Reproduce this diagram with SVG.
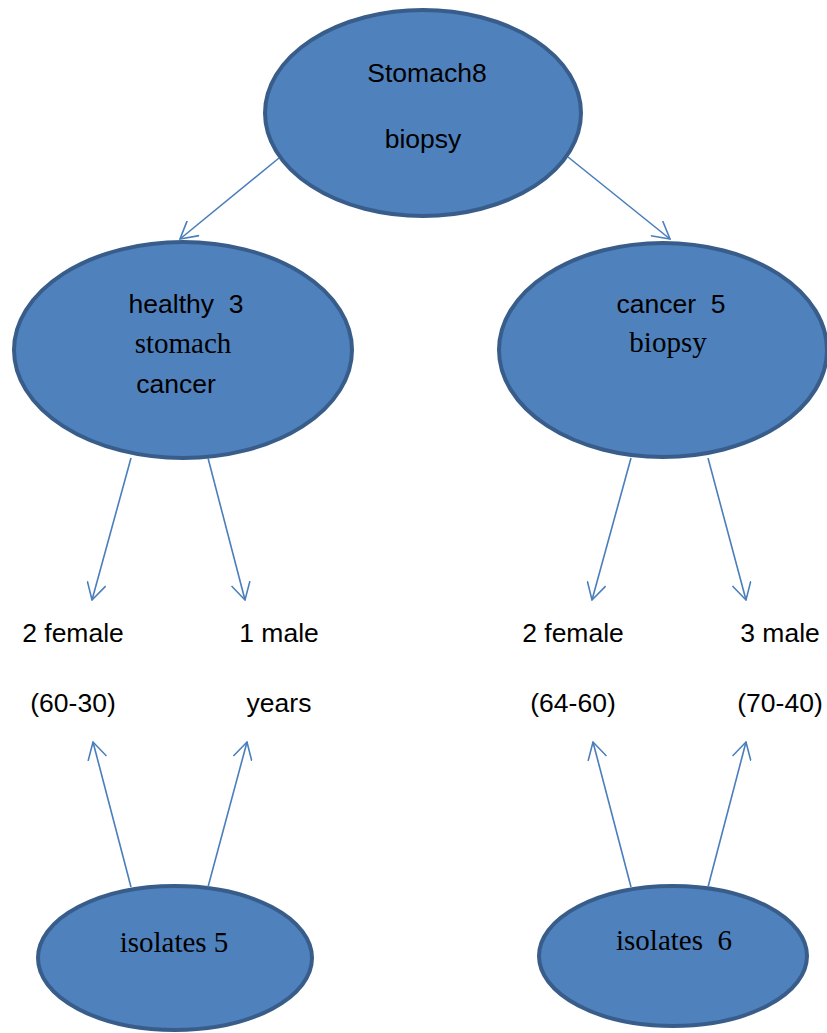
<svg xmlns="http://www.w3.org/2000/svg" width="827" height="1033" viewBox="0 0 827 1033">
<defs>
<style>
.node{fill:#4f81bd;stroke:#385d8a;stroke-width:4}
.sans{font-family:"Liberation Sans",Arial,sans-serif;font-size:26.5px;fill:#000;text-anchor:middle}
.serif{font-family:"Liberation Serif","Times New Roman",serif;font-size:29px;fill:#000;text-anchor:middle}
.conn line{stroke:#4a7ebb;stroke-width:1.6;fill:none}
</style>
<marker id="arr" viewBox="0 0 20 20" refX="19" refY="10" markerWidth="20" markerHeight="20" markerUnits="userSpaceOnUse" orient="auto">
<path d="M2,0.5 L19,10 L2,19.5" fill="none" stroke="#4a7ebb" stroke-width="1.6"/>
</marker>
</defs>
<rect width="827" height="1033" fill="#fff"/>
<g id="stomach">
<ellipse class="node" cx="423" cy="113" rx="158" ry="103"/>
<text class="sans" x="427" y="82">Stomach8</text>
<text class="sans" x="423" y="148">biopsy</text>
</g>
<g id="healthy">
<ellipse class="node" cx="183" cy="350" rx="169" ry="108"/>
<text class="sans" x="186" y="313" xml:space="preserve">healthy  3</text>
<text class="serif" x="183" y="353">stomach</text>
<text class="sans" x="176" y="393">cancer</text>
</g>
<g id="cancer">
<ellipse class="node" cx="663" cy="350" rx="164" ry="107"/>
<text class="sans" x="671" y="313" xml:space="preserve">cancer  5</text>
<text class="serif" x="668" y="352">biopsy</text>
</g>
<g id="female-healthy">
<text class="sans" x="73" y="642">2 female</text>
<text class="sans" x="73" y="712">(60-30)</text>
</g>
<g id="male-healthy">
<text class="sans" x="279" y="642">1 male</text>
<text class="sans" x="279" y="712">years</text>
</g>
<g id="female-cancer">
<text class="sans" x="573" y="642">2 female</text>
<text class="sans" x="573" y="712">(64-60)</text>
</g>
<g id="male-cancer">
<text class="sans" x="780" y="642">3 male</text>
<text class="sans" x="780" y="712">(70-40)</text>
</g>
<g id="isolates5">
<ellipse class="node" cx="175" cy="958" rx="137" ry="72"/>
<text class="serif" x="174" y="952">isolates 5</text>
</g>
<g id="isolates6">
<ellipse class="node" cx="673" cy="956" rx="134" ry="70"/>
<text class="serif" x="674" y="950" xml:space="preserve">isolates  6</text>
</g>
<g id="connectors" class="conn">
<line x1="279" y1="158" x2="180" y2="239" marker-end="url(#arr)"/>
<line x1="568" y1="157" x2="670" y2="239" marker-end="url(#arr)"/>
<line x1="131" y1="458" x2="92" y2="600" marker-end="url(#arr)"/>
<line x1="208" y1="458" x2="245" y2="600" marker-end="url(#arr)"/>
<line x1="631" y1="458" x2="592" y2="600" marker-end="url(#arr)"/>
<line x1="708" y1="458" x2="746" y2="600" marker-end="url(#arr)"/>
<line x1="131" y1="887" x2="93" y2="742" marker-end="url(#arr)"/>
<line x1="208" y1="887" x2="247" y2="742" marker-end="url(#arr)"/>
<line x1="631" y1="887" x2="593" y2="742" marker-end="url(#arr)"/>
<line x1="708" y1="887" x2="746" y2="742" marker-end="url(#arr)"/>
</g>
</svg>
